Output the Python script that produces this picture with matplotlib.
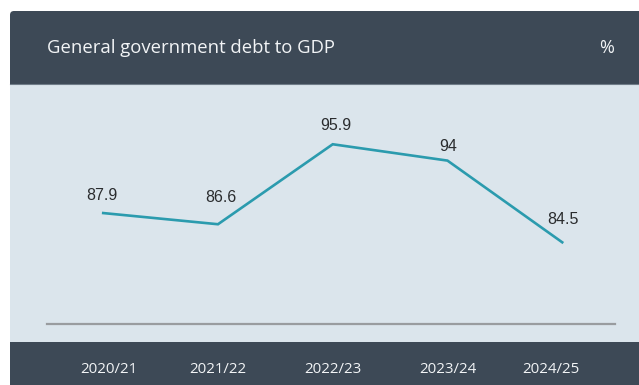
import matplotlib
matplotlib.use("Agg")
import matplotlib.pyplot as plt
from matplotlib.patches import FancyBboxPatch, Rectangle
from matplotlib.transforms import ScaledTranslation

# Data
years = ["2020/21", "2021/22", "2022/23", "2023/24", "2024/25"]
debt_to_gdp = [87.9, 86.6, 95.9, 94.0, 84.5]
value_labels = ["87.9", "86.6", "95.9", "94", "84.5"]
title = "General government debt to GDP"
unit = "%"

W, H = 639, 385
DPI = 100
fig = plt.figure(figsize=(W / DPI, H / DPI), dpi=DPI)
fig.patch.set_facecolor("white")

DARK = "#3d4956"
LIGHT = "#dbe5ec"
TEAL = "#2b9bae"
HEADER_FONT = ["Open Sans", "DejaVu Sans"]
VALUE_FONT = ["Liberation Sans", "DejaVu Sans"]

# Background panel drawn in pixel coordinates
bg = fig.add_axes([0, 0, 1, 1], zorder=0)
bg.set_xlim(0, W)
bg.set_ylim(H, 0)
bg.axis("off")
bg.add_patch(FancyBboxPatch((10, 11), 660, 420,
                            boxstyle="round,pad=0,rounding_size=4",
                            facecolor=DARK, edgecolor="none"))
bg.add_patch(Rectangle((10, 84), 660, 258, facecolor=LIGHT, edgecolor="none"))
bg.plot([10, W], [84, 84], color="#6f7c88", lw=0.8)
bg.text(47, 48, title, color="#f2f4f6", fontsize=13.3, family=HEADER_FONT,
        ha="left", va="center")
bg.text(607, 48, unit, color="#f2f4f6", fontsize=13, family=HEADER_FONT,
        ha="center", va="center")

# Line chart axes
left, right, base, top = 47, 615, 324, 100.4
ax = fig.add_axes([left / W, (H - base) / H, (right - left) / W, (base - top) / H],
                  zorder=1)
ax.set_facecolor("none")
x = list(range(len(years)))
ax.plot(x, debt_to_gdp, color=TEAL, lw=1.9, solid_joinstyle="miter")
ax.set_xlim(-0.49, 4.46)
ax.set_ylim(75, 101)

for s in ("top", "left", "right"):
    ax.spines[s].set_visible(False)
ax.spines["bottom"].set_color("#999c9f")
ax.spines["bottom"].set_linewidth(1.6)
ax.set_yticks([])

# Value labels above each point (pixel offsets)
label_dx = [-1, 3, 3.5, 0.5, 0.5]
label_dy = [12.7, 22.6, 14.3, 10, 18.7]
for xi, yi, lab, dx, dy in zip(x, debt_to_gdp, value_labels, label_dx, label_dy):
    ax.annotate(lab, (xi, yi), xytext=(dx * 72 / DPI, dy * 72 / DPI),
                textcoords="offset points", ha="center", va="baseline",
                fontsize=11.5, color="#2a2c2e", family=VALUE_FONT)

# Category labels sit in the dark footer band
ax.set_xticks(x)
ax.set_xticklabels(years, family=HEADER_FONT, fontsize=10.8, color="#f2f4f6")
ax.tick_params(axis="x", length=0, pad=0)
shifts = [6, 0, 0, 0, -11]
for lbl, sh in zip(ax.get_xticklabels(), shifts):
    lbl.set_transform(lbl.get_transform() + ScaledTranslation(sh / DPI, -38 / DPI, fig.dpi_scale_trans))

fig.savefig("out.png", dpi=DPI)
